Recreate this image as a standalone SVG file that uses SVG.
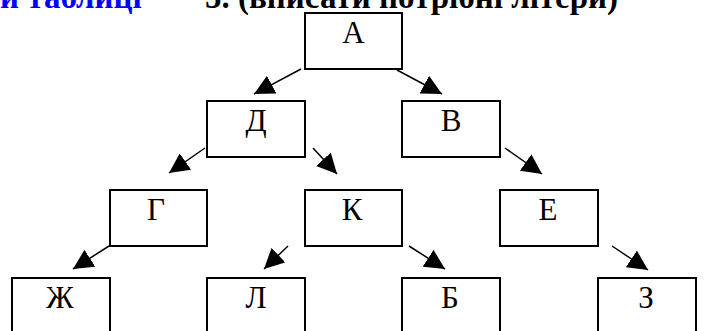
<svg xmlns="http://www.w3.org/2000/svg" width="704" height="331" viewBox="0 0 704 331">
<style>
.box{fill:#fff;stroke:#000;stroke-width:2}
.lbl{font-family:"Liberation Serif","Times New Roman",serif;font-size:31px;text-anchor:middle;fill:#000}
.hdr{font-family:"Liberation Serif","Times New Roman",serif;font-size:33px;font-weight:bold}
.conn line{stroke:#000;stroke-width:1.5;marker-end:url(#ah)}
</style>
<defs>
<marker id="ah" markerUnits="userSpaceOnUse" markerWidth="20" markerHeight="20" refX="20" refY="10" orient="auto" viewBox="0 0 20 20">
<path d="M0,0 L20,10 L0,20 z" fill="#000"/>
</marker>
</defs>
<rect width="704" height="331" fill="#fff"/>
<text class="hdr" x="0" y="8" fill="#0000ff">и таблиці</text>
<text class="hdr" x="205" y="8" fill="#000">5. (вписати потрібні літери)</text>
<g class="conn">
<line x1="301" y1="69" x2="254" y2="94"/>
<line x1="397" y1="70" x2="442" y2="94"/>
<line x1="205" y1="148" x2="169" y2="173"/>
<line x1="313" y1="148" x2="337" y2="174"/>
<line x1="505" y1="148" x2="542" y2="174"/>
<line x1="109" y1="246" x2="73" y2="269"/>
<line x1="288" y1="246" x2="264" y2="269"/>
<line x1="409" y1="246" x2="445" y2="269"/>
<line x1="612" y1="246" x2="648" y2="270"/>
</g>
<g id="nA"><rect class="box" x="305" y="13" width="97" height="56"/><text class="lbl" x="353.5" y="43">А</text></g>
<g id="nD"><rect class="box" x="207" y="101" width="98" height="56"/><text class="lbl" x="256" y="131">Д</text></g>
<g id="nV"><rect class="box" x="402" y="101" width="98" height="56"/><text class="lbl" x="451" y="131">В</text></g>
<g id="nG"><rect class="box" x="110" y="190" width="97" height="56"/><text class="lbl" x="156" y="220">Г</text></g>
<g id="nK"><rect class="box" x="305" y="190" width="97" height="56"/><text class="lbl" x="352" y="220">К</text></g>
<g id="nE"><rect class="box" x="500" y="190" width="98" height="56"/><text class="lbl" x="548" y="220">Е</text></g>
<g id="nZh"><rect class="box" x="12" y="278" width="98" height="60"/><text class="lbl" x="60" y="308">Ж</text></g>
<g id="nL"><rect class="box" x="207" y="278" width="98" height="60"/><text class="lbl" x="256" y="308">Л</text></g>
<g id="nB"><rect class="box" x="402" y="278" width="98" height="60"/><text class="lbl" x="450" y="308">Б</text></g>
<g id="nZ"><rect class="box" x="598" y="278" width="98" height="60"/><text class="lbl" x="646" y="308">З</text></g>
</svg>
